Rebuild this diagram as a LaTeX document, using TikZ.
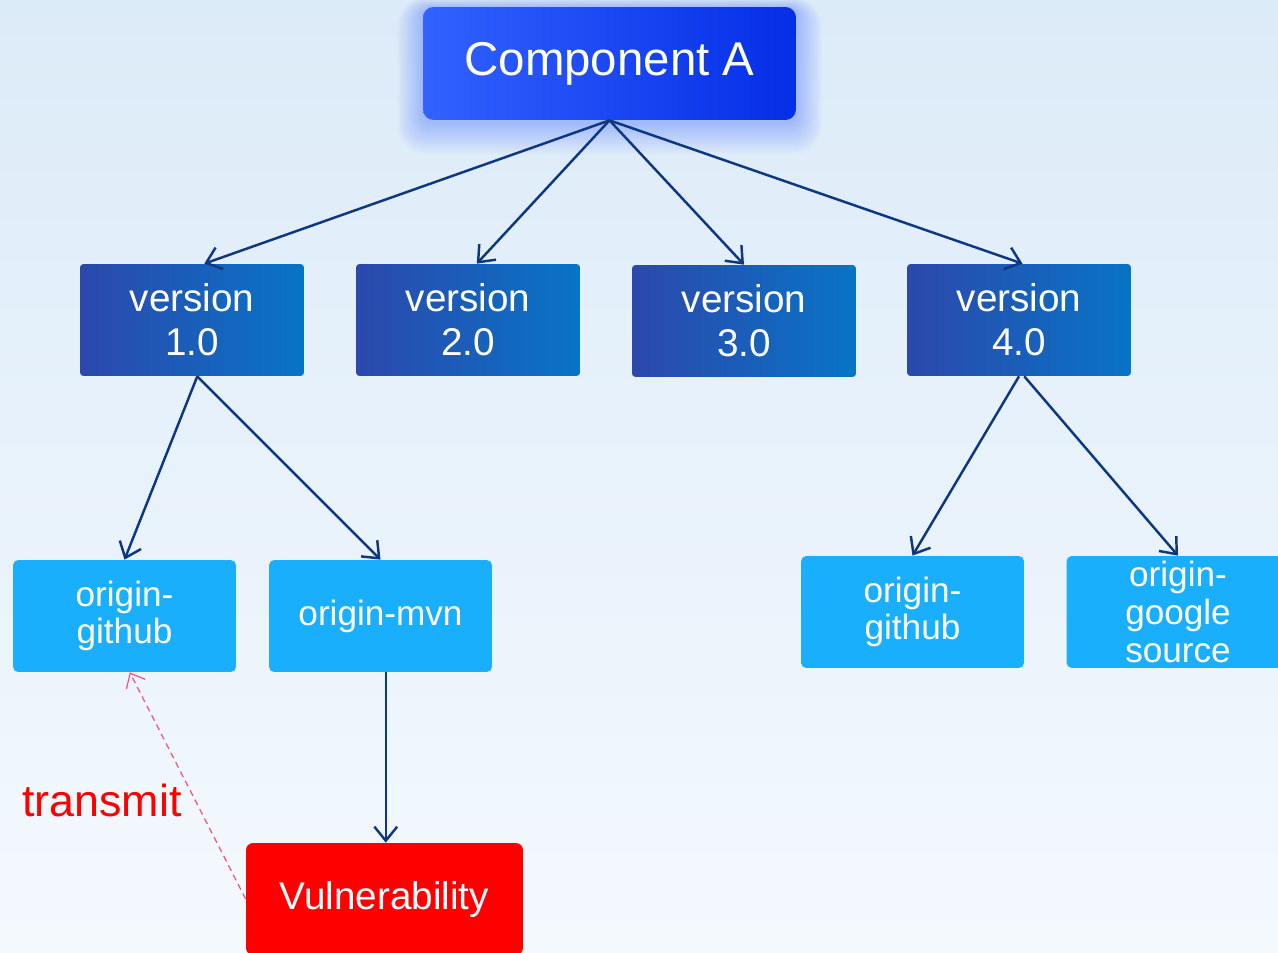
\documentclass[tikz,border=0pt]{standalone}
\usepackage{fontspec}
\setmainfont{Liberation Sans}
\usetikzlibrary{arrows.meta}

\definecolor{bgtop}{RGB}{220,235,248}
\definecolor{bgbottom}{RGB}{244,249,254}
\definecolor{compleft}{RGB}{50,98,255}
\definecolor{compright}{RGB}{5,46,230}
\definecolor{verleft}{RGB}{44,72,172}
\definecolor{verright}{RGB}{8,116,198}
\definecolor{origfill}{RGB}{26,175,253}
\definecolor{linkblue}{RGB}{13,55,130}
\definecolor{transpink}{RGB}{250,80,120}
\definecolor{vulnred}{RGB}{255,0,0}

\begin{document}
\begin{tikzpicture}[x=0.02cm, y=-0.02cm,
    compbox/.style={rounded corners=6pt, left color=compleft, right color=compright,
        text=white, minimum width=7.46cm, minimum height=2.26cm,
        font=\fontsize{27}{32}\selectfont},
    verbox/.style={rounded corners=2pt, left color=verleft, right color=verright,
        text=white, align=center, minimum width=4.48cm, minimum height=2.24cm,
        font=\fontsize{22}{25}\selectfont},
    origbox/.style={rounded corners=3pt, fill=origfill, text=white, align=center,
        minimum width=4.46cm, minimum height=2.24cm, inner sep=1pt,
        font=\fontsize{20}{21.5}\selectfont},
    vulnbox/.style={rounded corners=4pt, fill=vulnred, text=white,
        minimum width=5.54cm, minimum height=2.24cm,
        font=\fontsize{22}{26}\selectfont},
    link/.style={draw=linkblue, line width=1.4pt,
        -{Straight Barb[length=8pt,width=13pt]}},
    spread/.style={draw=transpink, line width=0.7pt, dash pattern=on 3.5pt off 2.5pt,
        -{Straight Barb[length=7pt,width=12pt]}}]

    % canvas
    \useasboundingbox (0,0) rectangle (1278,953);
    \clip (0,0) rectangle (1278,953);
    \shade[top color=bgtop, bottom color=bgbottom] (0,0) rectangle (1278,953);

    % soft glow under the component
    \foreach \g in {1,...,16}
        \fill[compleft, opacity=0.022, rounded corners={6pt+0.6pt*\g}]
            ({423-1.6*\g}, {8-0.6*\g}) rectangle ({796+1.6*\g}, {122+2*\g});

    % component and its versions
    \node[compbox] (comp) at (609.5,63.5) {Component A};
    \node[verbox] (v1) at (192,320) {version\\1.0};
    \node[verbox] (v2) at (468,320) {version\\2.0};
    \node[verbox] (v3) at (744,321) {version\\3.0};
    \node[verbox] (v4) at (1019,320) {version\\4.0};

    % origins
    \node[origbox] (gh1) at (124.5,616) {origin-\\github};
    \node[origbox] (mvn) at (380.5,616) {origin-mvn};
    \node[origbox] (gh4) at (912.5,612) {origin-\\github};
    \node[origbox] (gsrc) at (1178,612) {origin-\\google\\source};

    % vulnerability
    \node[vulnbox] (vuln) at (384.5,899) {Vulnerability};
    \node[text=vulnred, font=\fontsize{25.5}{30}\selectfont] (transmit) at (102,800) {transmit};

    % links
    \draw[link] (comp.south) -- ([xshift=7pt]v1.north);
    \draw[link] (comp.south) -- ([xshift=5pt]v2.north);
    \draw[link] (comp.south) -- (v3.north);
    \draw[link] (comp.south) -- ([xshift=2pt]v4.north);
    \draw[link] ([xshift=3pt]v1.south) -- (gh1.north);
    \draw[link] ([xshift=3pt]v1.south) -- (mvn.north);
    \draw[link] (v4.south) -- (gh4.north);
    \draw[link] ([xshift=3pt]v4.south) -- (gsrc.north);
    \draw[link] ([xshift=3pt]mvn.south) -- ([xshift=3pt]mvn.south |- vuln.north);

    % transmit back to github
    \draw[spread] (vuln.west) -- ([xshift=3pt]gh1.south);
\end{tikzpicture}
\end{document}
